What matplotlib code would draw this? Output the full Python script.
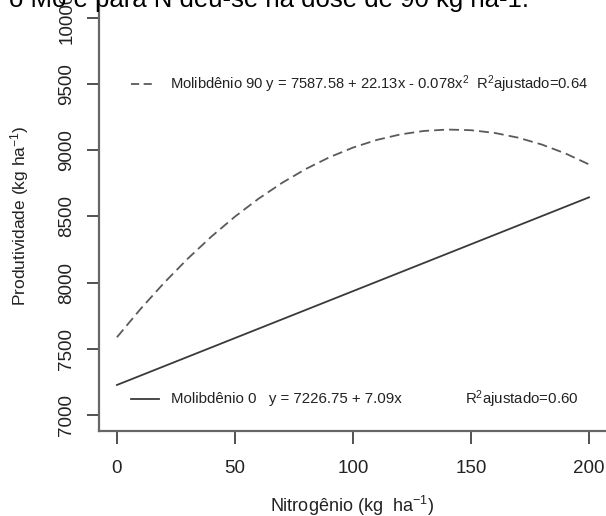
import matplotlib
matplotlib.use("Agg")
import matplotlib.pyplot as plt

plt.rcParams['font.family'] = ['Liberation Sans', 'DejaVu Sans']
plt.rcParams['mathtext.fontset'] = 'custom'
plt.rcParams['mathtext.rm'] = 'Liberation Sans'
plt.rcParams['mathtext.it'] = 'Liberation Sans:italic'
plt.rcParams['mathtext.bf'] = 'Liberation Sans:bold'

# Nitrogen dose (kg/ha) and yield
n_mo90 = [0, 10, 20, 30, 40, 50, 60, 70, 80, 90, 100,
          110, 120, 130, 140, 150, 160, 170, 180, 190, 200]
prod_mo90 = [7587.6, 7801.1, 7999.0, 8181.3, 8348.0, 8499.1, 8634.6,
             8754.5, 8858.8, 8947.5, 9020.6, 9078.1, 9120.0, 9146.3,
             9157.0, 9152.1, 9131.6, 9095.5, 9043.8, 8976.5, 8893.6]
n_mo0 = [0, 50, 100, 150, 200]
prod_mo0 = [7226.8, 7581.3, 7935.8, 8290.3, 8644.8]

xticks = [0, 50, 100, 150, 200]
yticks = [7000, 7500, 8000, 8500, 9000, 9500, 10000]

W, H = 606, 516
fig = plt.figure(figsize=(W / 100, H / 100), dpi=100)
ax = fig.add_axes([99 / W, 1 - 431 / H, 1 - 99 / W, 431 / H])

ax.plot(n_mo90, prod_mo90, color='#5a5a5a', lw=1.3, ls=(0, (5.5, 2.8)))
ax.plot(n_mo0, prod_mo0, color='#3a3a3a', lw=1.3)

ax.set_xlim(-7.6, 207.2)
ax.set_ylim(6879, 10136)
ax.set_xticks(xticks)
ax.set_yticks(yticks)
ax.set_yticklabels([str(v) for v in yticks], rotation=90, va='center')
ax.tick_params(axis='both', length=9, width=1.2, color='#333333',
               labelsize=13.5, labelcolor='#222222')
ax.tick_params(axis='x', pad=12)
ax.tick_params(axis='y', pad=8)
for s in ['top', 'right']:
    ax.spines[s].set_visible(False)
for s in ['left', 'bottom']:
    ax.spines[s].set_color('#666666')
    ax.spines[s].set_linewidth(1.6)

ax.set_xlabel('Nitrogênio (kg  ha$^{-1}$)', fontsize=13, color='#222222',
              labelpad=12)
ax.set_ylabel('Produtividade (kg ha$^{-1}$)', fontsize=12.5, color='#222222',
              labelpad=20)

# legend-like annotations
ax.plot([5.9, 16.1], [9500, 9500], color='#5a5a5a', lw=1.3,
        ls=(0, (4.5, 2.5)))
ax.text(22.5, 9500,
        'Molibdênio 90 y = 7587.58 + 22.13x - 0.078x$^{2}$  R$^{2}$ajustado=0.64',
        fontsize=10.6, va='center', color='#222222')
ax.plot([5.9, 17.8], [7120, 7120], color='#3a3a3a', lw=1.3)
ax.text(22.9, 7120, 'Molibdênio 0   y = 7226.75 + 7.09x',
        fontsize=10.8, va='center', color='#222222')
ax.text(147.5, 7120, 'R$^{2}$ajustado=0.60',
        fontsize=10.8, va='center', color='#222222')

# caption text cropped at the top of the picture
fig.text(9 / W, 1 - 7 / H, 'o Mo e para N deu-se na dose de 90 kg ha-1.',
         fontsize=18.5, va='baseline', ha='left', color='black')

fig.savefig('out.png', dpi=100)
